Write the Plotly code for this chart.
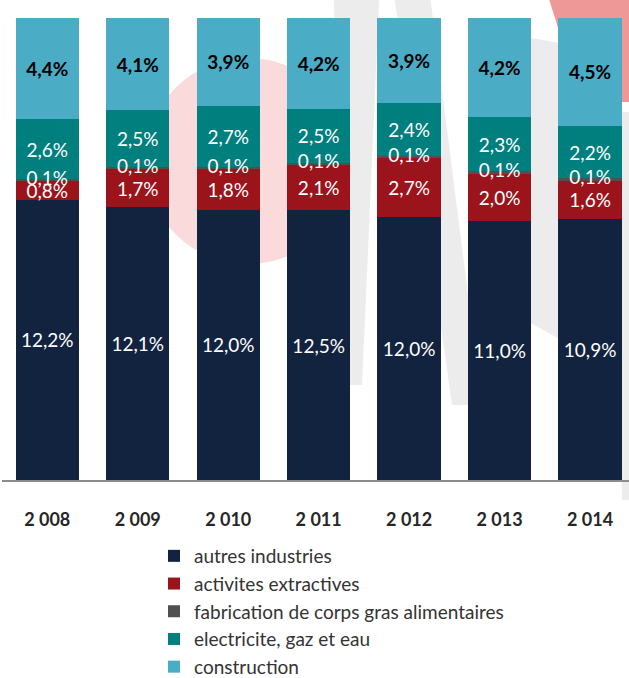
import plotly.graph_objects as go

years = ["2 008", "2 009", "2 010", "2 011", "2 012", "2 013", "2 014"]
autres_industries = [12.2, 12.1, 12.0, 12.5, 12.0, 11.0, 10.9]
activites_extractives = [0.8, 1.7, 1.8, 2.1, 2.7, 2.0, 1.6]
fabrication_corps_gras = [0.1, 0.1, 0.1, 0.1, 0.1, 0.1, 0.1]
electricite_gaz_eau = [2.6, 2.5, 2.7, 2.5, 2.4, 2.3, 2.2]
construction = [4.4, 4.1, 3.9, 4.2, 3.9, 4.2, 4.5]

series = [
    ("autres industries", autres_industries, "#12233F", "white", False),
    ("activites extractives", activites_extractives, "#9B141C", "white", False),
    ("fabrication de corps gras alimentaires", fabrication_corps_gras, "#505050", "white", False),
    ("electricite, gaz et eau", electricite_gaz_eau, "#007F7F", "white", False),
    ("construction", construction, "#4BACC6", "black", True),
]

FONT = "Lato"
LABEL_SIZE = 19
W, H = 629, 678
ML, MR, MT, MB = 2, 0, 18, 198
PW, PH = W - ML - MR, H - MT - MB


def fmt(v):
    return f"{v:.1f}".replace(".", ",") + "%"


fig = go.Figure()
for i, (name, vals, color, tcolor, bold) in enumerate(series):
    small = name.startswith("fabrication")
    fig.add_trace(go.Bar(
        x=years, y=vals, name=name,
        marker=dict(color=color, line=dict(width=0)),
        text=None if small else [f"<b>{fmt(v)}</b>" if bold else fmt(v) for v in vals],
        textposition="inside", insidetextanchor="middle",
        constraintext="none", textangle=0,
        textfont=dict(family=FONT, size=LABEL_SIZE, color=tcolor),
        legendgroup=str(i), hoverinfo="skip",
    ))

# labels of the thin segment, drawn on top of every bar (100 % stacked position)
totals = [sum(t) for t in zip(autres_industries, activites_extractives, fabrication_corps_gras,
                              electricite_gaz_eau, construction)]
mid_fab = [100 * (a + e + f / 2) / t for a, e, f, t in
           zip(autres_industries, activites_extractives, fabrication_corps_gras, totals)]
fig.add_trace(go.Scatter(
    x=years, y=mid_fab, mode="text", text=[fmt(v) for v in fabrication_corps_gras],
    textposition="middle center",
    textfont=dict(family=FONT, size=LABEL_SIZE, color="white"),
    showlegend=False, hoverinfo="skip",
))


# ---- faint background watermark (decoration only) ----
def px(x, y):
    return (x - ML) / PW, (H - MB - y) / PH


def poly(points, color):
    p = [px(x, y) for x, y in points]
    d = "M " + " L ".join(f"{a:.4f},{b:.4f}" for a, b in p) + " Z"
    fig.add_shape(type="path", path=d, xref="paper", yref="paper", layer="below",
                  fillcolor=color, line=dict(width=0))


GRAY = "#ECECEC"
poly([(333, -20), (380, -20), (362, 385), (348, 385)], GRAY)
poly([(392, -20), (428, -20), (482, 405), (452, 405)], GRAY)
poly([(515, 35), (570, 45), (570, 345), (522, 318)], GRAY)
poly([(614, 112), (640, 112), (640, 500), (622, 500)], GRAY)
poly([(543, -20), (640, -20), (640, 102), (619, 102), (608, 30), (560, 34)], "#EE9898")

x0, y0 = px(145, 264)
x1, y1 = px(351, 58)
fig.add_shape(type="circle", xref="paper", yref="paper", layer="below",
              x0=x0, x1=x1, y0=y0, y1=y1, fillcolor="#FADADA", line=dict(width=0))

lx, ly = px(154, 537)
fig.update_layout(
    width=W, height=H,
    margin=dict(l=ML, r=MR, t=MT, b=MB, autoexpand=False),
    barmode="stack", barnorm="percent", bargap=0.30,
    plot_bgcolor="rgba(0,0,0,0)", paper_bgcolor="white",
    showlegend=True,
    legend=dict(
        x=lx, xanchor="left", y=ly, yanchor="top",
        traceorder="grouped", tracegroupgap=0,
        font=dict(family=FONT, size=19, color="#333333"),
        bgcolor="rgba(0,0,0,0)",
    ),
    xaxis=dict(
        range=[-0.5, 6.43], showline=True, linecolor="#8C8C8C", linewidth=2,
        ticks="", showgrid=False, ticklabelstandoff=22,
        tickfont=dict(family=FONT, size=18, color="#262626", weight="bold"),
    ),
    yaxis=dict(range=[0, 100], visible=False, showgrid=False),
)

fig.write_html("out.html", config={"displayModeBar": False},
               post_script="document.body.style.margin='0';")
